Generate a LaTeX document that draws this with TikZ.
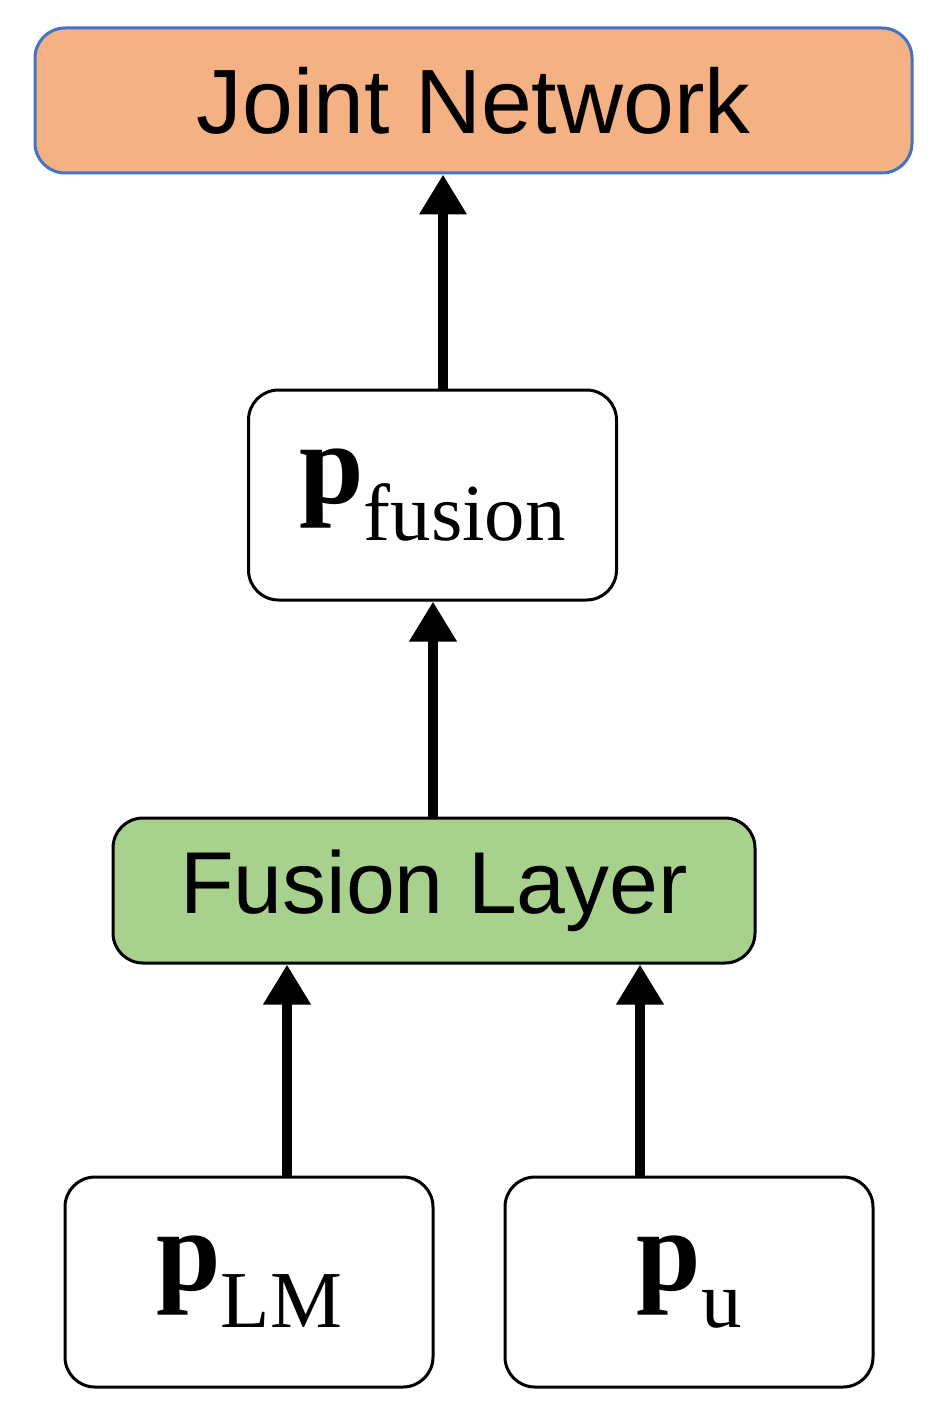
\documentclass[tikz,border=0pt]{standalone}
\usepackage[no-math]{fontspec}
\setmainfont{Liberation Sans}
\newfontfamily\vecfont{Liberation Serif}
\usetikzlibrary{arrows.meta}
\definecolor{jn_orange}{HTML}{F4B183}
\definecolor{jn_blue}{HTML}{4472C4}
\definecolor{fl_green}{HTML}{A9D18E}
\newcommand{\vecsym}[2]{{\vecfont\bfseries #1}\raisebox{-0.32em}{\fontsize{46}{50}\vecfont #2}}
\tikzset{
    block/.style={draw, line width=0.06cm, rounded corners=0.6cm, align=center, inner sep=0pt},
    vecbox/.style={block, fill=white, minimum width=7.36cm, minimum height=4.2cm, font=\fontsize{66}{70}\selectfont},
    flow/.style={line width=0.2cm, -{Triangle[width=0.9cm,length=0.8cm]}}
}
\begin{document}
\begin{tikzpicture}
        \useasboundingbox (0,0) rectangle (19,-28.38);

        \node[block, fill=jn_orange, draw=jn_blue, minimum width=17.54cm, minimum height=2.9cm,
              font=\fontsize{52}{60}\selectfont] (joint) at (9.47, -2.01) {Joint Network};
        \node[vecbox] (pfusion) at (8.65, -9.9) {\vecsym{p}{fusion}};
        \node[block, fill=fl_green, minimum width=12.84cm, minimum height=2.9cm,
              font=\fontsize{50}{60}\selectfont] (fusion) at (8.68, -17.81) {Fusion Layer};
        \node[vecbox] (plm) at (4.98, -25.64) {\vecsym{p}{LM}};
        \node[vecbox] (pu) at (13.78, -25.64) {\vecsym{p}{u}};

        \draw[flow] (pfusion.north -| 8.86,0) -- (joint.south -| 8.86,0);
        \draw[flow] (fusion.north -| 8.66,0) -- (pfusion.south -| 8.66,0);
        \draw[flow] (plm.north -| 5.74,0) -- (fusion.south -| 5.74,0);
        \draw[flow] (pu.north -| 12.8,0) -- (fusion.south -| 12.8,0);

\end{tikzpicture}
\end{document}
